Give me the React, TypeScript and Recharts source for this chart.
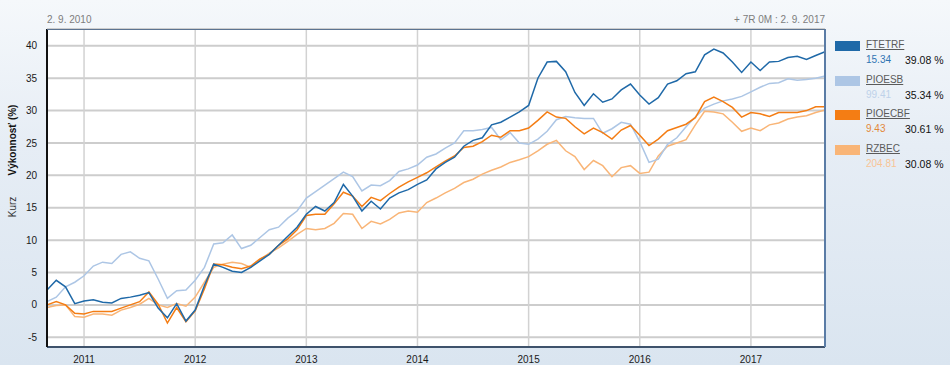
import React from "react";
import { LineChart, Line, XAxis, YAxis, CartesianGrid } from "recharts";

// Monthly points, 2. 9. 2010 -> 2. 9. 2017 (values in % performance)
const MONTHS = [
  "2010-09", "2010-10", "2010-11", "2010-12",
  "2011-01", "2011-02", "2011-03", "2011-04", "2011-05", "2011-06", "2011-07", "2011-08", "2011-09", "2011-10", "2011-11", "2011-12",
  "2012-01", "2012-02", "2012-03", "2012-04", "2012-05", "2012-06", "2012-07", "2012-08", "2012-09", "2012-10", "2012-11", "2012-12",
  "2013-01", "2013-02", "2013-03", "2013-04", "2013-05", "2013-06", "2013-07", "2013-08", "2013-09", "2013-10", "2013-11", "2013-12",
  "2014-01", "2014-02", "2014-03", "2014-04", "2014-05", "2014-06", "2014-07", "2014-08", "2014-09", "2014-10", "2014-11", "2014-12",
  "2015-01", "2015-02", "2015-03", "2015-04", "2015-05", "2015-06", "2015-07", "2015-08", "2015-09", "2015-10", "2015-11", "2015-12",
  "2016-01", "2016-02", "2016-03", "2016-04", "2016-05", "2016-06", "2016-07", "2016-08", "2016-09", "2016-10", "2016-11", "2016-12",
  "2017-01", "2017-02", "2017-03", "2017-04", "2017-05", "2017-06", "2017-07", "2017-08", "2017-09",
];

const FTETRF = [
  2.3, 3.8, 2.8, 0.2, 0.6, 0.8, 0.4, 0.3, 1.0, 1.2,
  1.5, 1.9, -0.5, -2.0, 0.2, -2.5, -0.8, 3.0, 6.3, 5.8,
  5.2, 5.0, 5.8, 6.8, 7.8, 9.2, 10.6, 12.0, 14.0, 15.2,
  14.5, 15.8, 18.6, 16.8, 14.5, 16.0, 14.8, 16.5, 17.3, 17.8,
  18.6, 19.3, 21.0, 22.0, 22.8, 24.5, 25.4, 25.8, 27.8, 28.2,
  29.0, 29.8, 30.8, 35.0, 37.5, 37.6, 36.0, 32.8, 30.8, 32.6,
  31.3, 31.8, 33.2, 34.1, 32.4, 31.0, 32.0, 34.1, 34.6, 35.7,
  36.0, 38.6, 39.5, 38.9, 37.5, 35.9, 37.5, 36.2, 37.5, 37.6,
  38.2, 38.4, 37.9, 38.5, 39.08,
];

const PIOESB = [
  0.5, 1.2, 2.8, 3.5, 4.5, 6.0, 6.6, 6.4, 7.8, 8.2,
  7.2, 6.8, 4.0, 1.0, 2.2, 2.3, 3.8, 5.8, 9.4, 9.6,
  10.8, 8.7, 9.2, 10.4, 11.6, 12.0, 13.4, 14.5, 16.5, 17.5,
  18.5, 19.5, 20.5, 19.8, 17.6, 18.5, 18.4, 19.2, 20.6, 21.0,
  21.6, 22.8, 23.3, 24.2, 25.0, 26.9, 26.9, 27.1, 27.4, 25.5,
  26.6, 25.0, 24.8, 25.6, 26.8, 28.6, 29.1, 28.9, 28.8, 28.8,
  26.5, 27.2, 28.2, 27.9, 25.2, 22.0, 22.5, 24.8, 25.8, 27.5,
  29.0, 30.4, 31.0, 31.5, 31.8, 32.2, 32.9, 33.6, 34.2, 34.3,
  34.9, 34.7, 34.8, 35.0, 35.34,
];

const PIOECBF = [
  0.0, 0.5, 0.0, -1.3, -1.4, -1.0, -1.0, -1.0, -0.5, 0.0,
  0.5, 2.0, 0.1, -2.8, -0.4, -2.6, -0.9, 2.5, 6.3, 6.2,
  5.8, 5.6, 6.0, 7.1, 7.8, 9.2, 10.2, 11.6, 13.8, 14.0,
  14.0, 15.6, 17.4, 16.8, 15.2, 16.6, 16.1, 17.2, 18.2, 19.0,
  19.7, 20.4, 21.3, 22.2, 23.0, 24.3, 24.5, 25.2, 26.2, 25.9,
  26.9, 26.9, 27.3, 28.5, 29.8, 29.0, 28.8, 27.5, 26.4, 27.3,
  26.6, 25.6, 27.0, 27.7, 26.2, 24.6, 25.6, 26.9, 27.4, 27.9,
  28.9, 31.4, 32.1, 31.4, 30.5, 29.0, 29.7, 29.5, 29.1, 29.7,
  29.7, 29.7, 30.0, 30.6, 30.61,
];

const RZBEC = [
  -0.4, -0.1, 0.0, -1.8, -1.9, -1.4, -1.4, -1.6, -0.8, -0.4,
  0.1, 1.0, 0.0, -0.4, 0.2, -0.2, 1.2, 3.5, 5.8, 6.3,
  6.6, 6.4, 5.8, 7.0, 8.0, 8.8, 9.8, 10.9, 11.8, 11.6,
  11.8, 12.6, 14.1, 14.0, 11.8, 12.9, 12.5, 13.2, 14.2, 14.5,
  14.3, 15.8, 16.5, 17.3, 18.0, 18.9, 19.4, 20.2, 20.8, 21.3,
  22.0, 22.4, 22.9, 23.8, 24.8, 25.4, 23.8, 22.9, 20.9, 22.3,
  21.5, 19.8, 21.2, 21.5, 20.3, 20.5, 23.0, 24.5, 25.0, 25.5,
  27.8, 29.9, 29.8, 29.5, 28.2, 26.8, 27.3, 26.9, 27.8, 28.1,
  28.7, 29.0, 29.2, 29.7, 30.08,
];

const YEAR_TICKS = ["2011-01", "2012-01", "2013-01", "2014-01", "2015-01", "2016-01", "2017-01"];
const Y_TICKS = [-5, 0, 5, 10, 15, 20, 25, 30, 35, 40];

const NAMES = ["FTETRF", "PIOESB", "PIOECBF", "RZBEC"];
const PRICES = ["15.34", "99.41", "9.43", "204.81"];
const CHANGES = ["39.08 %", "35.34 %", "30.61 %", "30.08 %"];
const COLORS = ["#1f69a8", "#adc6e5", "#f47d14", "#f9b577"];
const PRICE_COLORS = ["#2f74b3", "#bed2ea", "#e3883a", "#f8c495"];

const data = MONTHS.map((m, i) => ({
  m,
  FTETRF: FTETRF[i],
  PIOESB: PIOESB[i],
  PIOECBF: PIOECBF[i],
  RZBEC: RZBEC[i],
}));

const FONT = "'Liberation Sans', Arial, sans-serif";

export default function App() {
  return (
    <div
      style={{
        position: "absolute",
        left: 0,
        top: 0,
        width: 950,
        height: 365,
        background: "linear-gradient(to bottom, #f5f8fb 0%, #e6edf5 40%, #dae5f0 100%)",
        fontFamily: FONT,
        overflow: "hidden",
      }}
    >
      <div style={{ position: "absolute", left: 47, top: 14, fontSize: 10, color: "#7d7d7d" }}>
        2. 9. 2010
      </div>
      <div style={{ position: "absolute", right: 125, top: 14, fontSize: 10, color: "#7d7d7d" }}>
        + 7R 0M : 2. 9. 2017
      </div>

      {/* rotated axis titles */}
      <div
        style={{
          position: "absolute",
          left: 12,
          top: 140,
          transform: "translate(-50%, -50%) rotate(-90deg)",
          fontSize: 10,
          fontWeight: "bold",
          color: "#111",
          whiteSpace: "nowrap",
        }}
      >
        Výkonnosť (%)
      </div>
      <div
        style={{
          position: "absolute",
          left: 12,
          top: 207,
          transform: "translate(-50%, -50%) rotate(-90deg)",
          fontSize: 10,
          color: "#333",
          whiteSpace: "nowrap",
        }}
      >
        Kurz
      </div>

      <div style={{ position: "absolute", left: 0, top: 0 }}>
        <LineChart
          width={950}
          height={365}
          data={data}
          margin={{ top: 29, right: 125, bottom: 0, left: 17 }}
        >
          <CartesianGrid fill="#ffffff" vertical={false} stroke="#cdcdcd" strokeWidth={2} />
          <CartesianGrid horizontal={false} stroke="#d2d2d2" strokeWidth={1.5} />
          <XAxis
            dataKey="m"
            ticks={YEAR_TICKS}
            tickFormatter={(v) => String(v).slice(0, 4)}
            interval={0}
            height={18}
            tickLine={false}
            tickMargin={3}
            axisLine={{ stroke: "#3e526b", strokeWidth: 2 }}
            tick={{ fontSize: 10, fill: "#1a1a1a", fontFamily: FONT }}
          />
          <YAxis
            type="number"
            domain={[-6.5, 42.6]}
            ticks={Y_TICKS}
            allowDataOverflow
            width={30}
            tickLine={false}
            tickMargin={4}
            axisLine={{ stroke: "#111111", strokeWidth: 2 }}
            tick={{ fontSize: 10, fill: "#1a1a1a", fontFamily: FONT }}
          />
          <Line dataKey="RZBEC" type="linear" stroke={COLORS[3]} strokeWidth={1.5} dot={false} isAnimationActive={false} />
          <Line dataKey="PIOESB" type="linear" stroke={COLORS[1]} strokeWidth={1.5} dot={false} isAnimationActive={false} />
          <Line dataKey="PIOECBF" type="linear" stroke={COLORS[2]} strokeWidth={1.5} dot={false} isAnimationActive={false} />
          <Line dataKey="FTETRF" type="linear" stroke={COLORS[0]} strokeWidth={1.5} dot={false} isAnimationActive={false} />
        </LineChart>
      </div>

      {/* top and right frame of the plot area */}
      <div
        style={{
          position: "absolute",
          left: 47,
          top: 29,
          width: 777,
          height: 317,
          borderTop: "1px solid #5b7391",
          borderRight: "2px solid #5a7ca6",
          pointerEvents: "none",
        }}
      />

      {/* legend */}
      {NAMES.map((name, i) => (
        <div key={name} style={{ position: "absolute", left: 835, top: 40 + i * 34.7 }}>
          <div style={{ position: "absolute", left: 0, top: 1, width: 25, height: 10, background: COLORS[i] }} />
          <div
            style={{
              position: "absolute",
              left: 31,
              top: -1,
              fontSize: 10,
              color: "#5a5a5a",
              textDecoration: "underline",
              whiteSpace: "nowrap",
            }}
          >
            {name}
          </div>
          <div style={{ position: "absolute", left: 31, top: 14, fontSize: 10, color: PRICE_COLORS[i] }}>
            {PRICES[i]}
          </div>
          <div style={{ position: "absolute", left: 70, top: 14, fontSize: 10.5, color: "#111", whiteSpace: "nowrap" }}>
            {CHANGES[i]}
          </div>
        </div>
      ))}
    </div>
  );
}
